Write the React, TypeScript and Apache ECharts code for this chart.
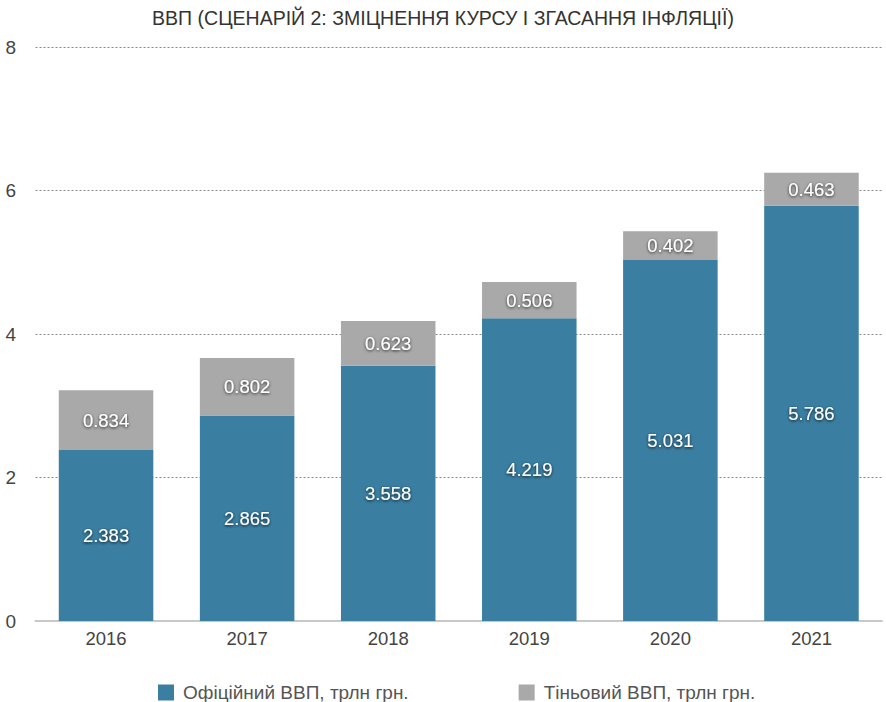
import React, { useEffect, useRef } from "react";
import * as echarts from "echarts";

const categories = ["2016", "2017", "2018", "2019", "2020", "2021"];
const officialGdp = [2.383, 2.865, 3.558, 4.219, 5.031, 5.786];
const shadowGdp = [0.834, 0.802, 0.623, 0.506, 0.402, 0.463];
const seriesNames = ["Офіційний ВВП, трлн грн.", "Тіньовий ВВП, трлн грн."];
const titleText = "ВВП (СЦЕНАРІЙ 2: ЗМІЦНЕННЯ КУРСУ І ЗГАСАННЯ ІНФЛЯЦІЇ)";

const FONT = "'Liberation Sans', Arial, Helvetica, sans-serif";

export default function App() {
  const ref = useRef<HTMLDivElement>(null);
  useEffect(() => {
    document.body.style.margin = "0";
    const chart = echarts.init(ref.current!, null, { renderer: "svg" });
    const label = {
      show: true,
      position: "inside",
      color: "#fff",
      fontSize: 18.5,
      fontFamily: FONT,
      textShadowColor: "rgba(0,0,0,0.8)",
      textShadowBlur: 3,
      textShadowOffsetX: 0,
      textShadowOffsetY: 1,
      formatter: (p: any) => p.value.toFixed(3),
    };
    chart.setOption({
      animation: false,
      textStyle: { fontFamily: FONT },
      title: {
        text: titleText,
        left: "center",
        top: 3,
        textStyle: { fontSize: 19.5, fontWeight: "normal", color: "#333", fontFamily: FONT },
      },
      legend: {
        top: 678,
        left: 153,
        itemGap: 110,
        itemWidth: 16,
        itemHeight: 16,
        icon: "rect",
        textStyle: { fontSize: 19, color: "#555", fontFamily: FONT, padding: [0, 0, 0, 4] },
        data: seriesNames,
      },
      grid: { left: 35.5, right: 4, top: 47, bottom: 81, containLabel: false },
      xAxis: {
        type: "category",
        data: categories,
        axisLine: { lineStyle: { color: "#c8c8c8", width: 2 } },
        axisTick: { show: false },
        axisLabel: { fontSize: 18.5, color: "#444", margin: 8, fontFamily: FONT },
      },
      yAxis: {
        type: "value",
        min: 0,
        max: 8,
        interval: 2,
        axisLine: { show: false },
        axisTick: { show: false },
        axisLabel: { fontSize: 19, color: "#444", margin: 30, align: "left", fontFamily: FONT },
        splitLine: { lineStyle: { color: "#888", type: [2, 2], width: 1 } },
      },
      series: [
        {
          name: seriesNames[0],
          type: "bar",
          stack: "gdp",
          data: officialGdp,
          barWidth: "67%",
          itemStyle: { color: "#3a7ea1" },
          label,
          z: 3,
        },
        {
          name: seriesNames[1],
          type: "bar",
          stack: "gdp",
          data: shadowGdp,
          barWidth: "67%",
          itemStyle: { color: "#a9a9a9" },
          label,
          z: 3,
        },
      ],
    });
    return () => chart.dispose();
  }, []);
  return <div ref={ref} style={{ width: 886, height: 702, position: "absolute", left: 0, top: 0 }} />;
}
